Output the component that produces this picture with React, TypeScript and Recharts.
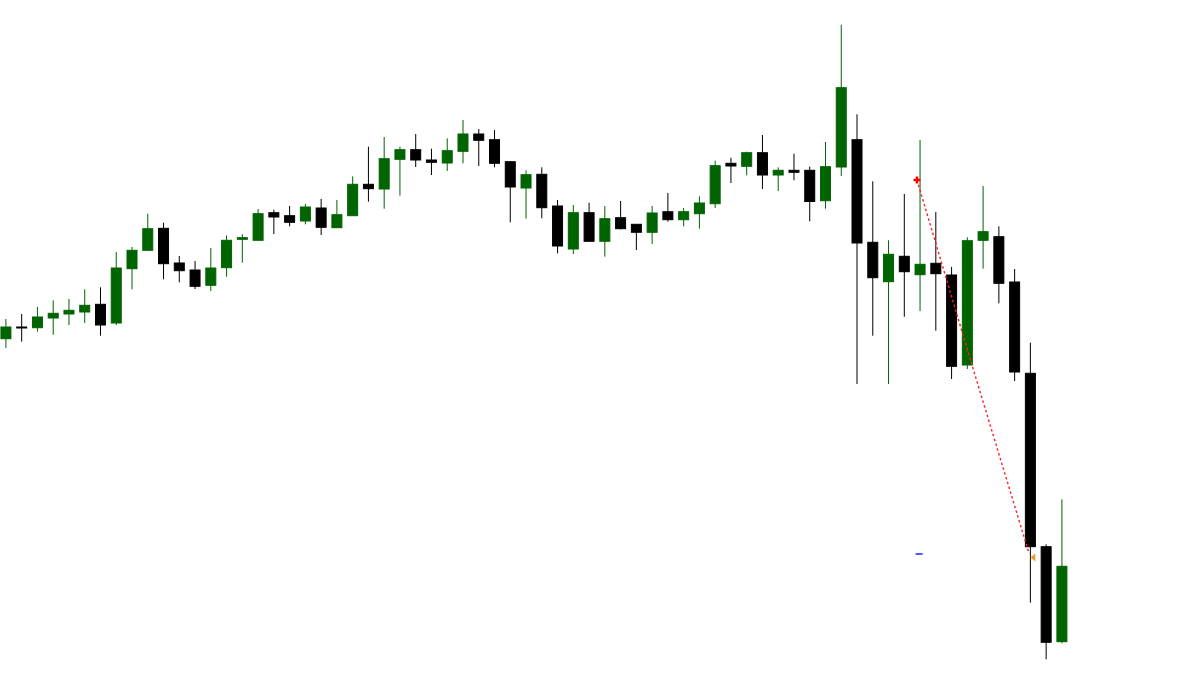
import { Bar, ComposedChart, Line, Scatter, XAxis, YAxis } from "recharts";

// candle values (price units = screen rows from the bottom)
const OPEN = [
  336.3, 348, 347.3, 357, 361, 363, 370.7, 352, 406.3, 424.7, 446.7, 412, 405, 389.7, 407.3, 435.7, 434.7,
  462.3, 459.3, 454, 467, 447.3, 459.3, 490.7, 486, 515.7, 525.3, 515, 512, 523.7, 541, 535.3, 513.3, 487,
  500.7, 469, 426, 462.3, 433.7, 457.3, 450.7, 442.7, 463.3, 455.3, 461.3, 471.3, 511.7, 508.7, 522.3, 500,
  504.7, 504.7, 474.3, 508, 535.3, 432.7, 393.3, 418.7, 400.3, 411.7, 400, 310, 434.7, 438.3, 393, 301.7,
  128.3, 33.3,
];
const HIGH = [
  356, 361, 368, 374.7, 376, 385.7, 387.7, 423, 428, 461.3, 452.3, 419, 414, 427, 439.7, 440.7, 466, 465.3,
  469, 471, 476, 475, 498.7, 528.3, 538, 528.3, 541, 526.3, 536.7, 555, 546, 545, 513.3, 504.7, 507.7, 475,
  470, 472.3, 469, 474, 450.7, 469, 482, 467, 478.7, 514.3, 517.3, 523.3, 540, 507.7, 521.3, 508.3, 533,
  650.3, 560.7, 493.7, 434.7, 481, 535, 463, 408, 437.7, 489, 448.7, 406, 332.3, 130.7, 175.7,
];
const LOW = [
  327, 333.3, 343.3, 340.3, 350, 352, 339.3, 350, 385.7, 424.7, 395.7, 392.7, 386, 384, 398.3, 412.3, 434.7,
  441, 448.7, 450.7, 440, 447.3, 459.3, 473.3, 466.3, 479.3, 508, 500, 504, 511.7, 509, 507.7, 452.7, 456.3,
  456.7, 421.7, 421, 433.7, 418.3, 445.7, 425, 431, 453.3, 448.7, 446.3, 467, 492, 499.7, 486, 484, 494.7,
  453.7, 466.3, 499, 291, 339.3, 291, 358.3, 364, 344.3, 296, 306, 406.3, 371.7, 294, 72.3, 15.7, 31.7,
];
const CLOSE = [
  348, 347.5, 358, 361.7, 364.7, 369.7, 350, 407, 424.7, 446.3, 411.3, 404.3, 388.7, 407, 434.7, 437.3,
  461.3, 458, 452.7, 468, 447.7, 460.3, 490.7, 486.3, 516.3, 525.3, 515, 512.7, 524.3, 541, 534.7, 511.7,
  488, 500.3, 467.3, 429, 462.3, 433.7, 456.3, 446.3, 442.7, 462, 455.3, 463.3, 472, 509.3, 509, 522.3, 500,
  504.7, 502.7, 473.5, 508.3, 587.3, 432, 397.3, 420.7, 403.3, 410.7, 401.3, 308.7, 434.3, 443.3, 391.7,
  303, 128.3, 32.7, 108.7,
];

// trade arrow drawn over the candles (bar position, price)
const TRADE_BAR = [57.8, 61.23, 64.9];
const TRADE_PRICE = [495, 313, 122];
const ENTRY = [{ i: 57.8, v: 495 }];
const EXIT = [{ i: 65.15, v: 117.5 }];
const LEVEL = [{ i: 57.9, v: 121 }];

const UP = "#006400";
const DOWN = "#000000";

const candles = OPEN.map((open, i) => ({
  i,
  open,
  high: HIGH[i],
  low: LOW[i],
  close: CLOSE[i],
  range: [LOW[i], HIGH[i]],
}));

const trade = TRADE_BAR.map((i, k) => ({ i, v: TRADE_PRICE[k] }));

const Candle = (props: any) => {
  const { x, y, width, height, payload } = props;
  const { open, close, high, low } = payload;
  const cx = x + width / 2;
  const top = Math.min(y, y + height);
  const bottom = Math.max(y, y + height);
  const py = (v: number) => top + ((high - v) / (high - low)) * (bottom - top);
  const up = close > open;
  const color = up ? UP : DOWN;
  const bt = py(Math.max(open, close));
  const bb = py(Math.min(open, close));
  return (
    <g>
      <line x1={cx} x2={cx} y1={top} y2={bottom} stroke={color} strokeWidth={1} />
      <rect x={cx - 5} y={bt} width={10} height={Math.max(bb - bt, 1)} fill={color} stroke={color} strokeWidth={1} />
    </g>
  );
};

const Cross = ({ cx, cy }: any) => (
  <g stroke="#ff0000" strokeWidth={2.5}>
    <line x1={cx - 3.5} x2={cx + 3.5} y1={cy} y2={cy} />
    <line x1={cx} x2={cx} y1={cy - 3.5} y2={cy + 3.5} />
  </g>
);

const Arrow = ({ cx, cy }: any) => (
  <path d={`M${cx - 2.5},${cy} L${cx + 2.5},${cy - 4} L${cx + 2.5},${cy + 4} Z`} fill="#e8a030" />
);

const Dash = ({ cx, cy }: any) => (
  <line x1={cx - 3} x2={cx + 4} y1={cy} y2={cy} stroke="#2020ff" strokeWidth={1.5} />
);

export default function App() {
  return (
    <div>
      <style>{"body{margin:0;background:#fff}"}</style>
      <ComposedChart width={1200} height={675} data={candles} margin={{ top: 0, right: 0, bottom: 0, left: 0 }}>
        <XAxis
          dataKey="i"
          type="number"
          domain={[-6 / 15.761, (1200 - 6) / 15.761]}
          allowDataOverflow
          hide
        />
        <YAxis type="number" domain={[0, 675]} allowDataOverflow hide />
        <Bar dataKey="range" barSize={11} shape={<Candle />} isAnimationActive={false} />
        <Line
          data={trade}
          dataKey="v"
          stroke="#ff2020"
          strokeWidth={1.4}
          strokeDasharray="2.5 2.5"
          dot={false}
          activeDot={false}
          isAnimationActive={false}
        />
        <Scatter data={LEVEL} dataKey="v" shape={<Dash />} isAnimationActive={false} />
        <Scatter data={ENTRY} dataKey="v" shape={<Cross />} isAnimationActive={false} />
        <Scatter data={EXIT} dataKey="v" shape={<Arrow />} isAnimationActive={false} />
      </ComposedChart>
    </div>
  );
}
